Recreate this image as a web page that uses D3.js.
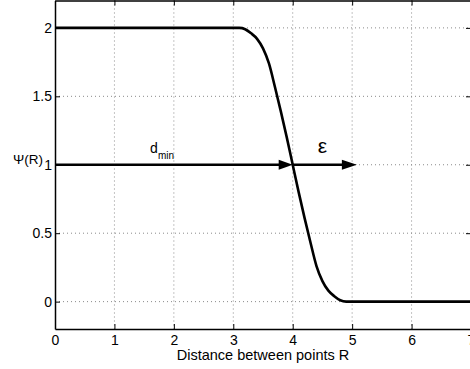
<!DOCTYPE html>
<html>
<head>
<meta charset="utf-8">
<script src="https://cdn.jsdelivr.net/npm/d3@7/dist/d3.min.js"></script>
<style>
  html, body { margin: 0; padding: 0; background: #fff; }
  svg { display: block; }
  text { font-family: "Liberation Sans", Arial, Helvetica, sans-serif; fill: #000; }
</style>
</head>
<body>
<svg id="chart" width="470" height="369"></svg>
<script>
// Ψ(R) against distance R
const distance = [0, 3.1, 3.2, 3.3, 3.4, 3.5, 3.6, 3.7, 3.8, 3.9, 4.0, 4.1, 4.2, 4.3, 4.4, 4.5, 4.6, 4.7, 4.8, 4.9, 7];
const psi      = [2, 2, 1.99, 1.96, 1.92, 1.85, 1.74, 1.57, 1.39, 1.20, 1.0, 0.80, 0.61, 0.43, 0.26, 0.15, 0.08, 0.04, 0.01, 0, 0];

const xTicks = [0, 1, 2, 3, 4, 5, 6, 7];
const yTicks = [0, 0.5, 1, 1.5, 2];
const xTickLabels = ["0", "1", "2", "3", "4", "5", "6", "7"];
const yTickLabels = ["0", "0.5", "1", "1.5", "2"];

// annotation arrows: [from, to] along R at Ψ = 1
const dminArrow = [0, 4];
const epsArrow = [4, 5.08];
const arrowLevel = 1;

const svg = d3.select("#chart");
const mLeft = 55, mRight = 471, mTop = 0.5, mBottom = 329;

const x = d3.scaleLinear().domain([0, 7]).range([mLeft, mRight]);
const y = d3.scaleLinear().domain([-0.2, 2.2]).range([mBottom, mTop]);

// dotted grid
const grid = svg.append("g").attr("stroke", "#8a8a8a").attr("stroke-width", 1)
  .attr("stroke-dasharray", "1,3").attr("fill", "none");
xTicks.slice(1, -1).forEach(t => {
  grid.append("line").attr("x1", x(t)).attr("x2", x(t)).attr("y1", mTop).attr("y2", mBottom);
});
yTicks.forEach(t => {
  grid.append("line").attr("x1", mLeft).attr("x2", mRight).attr("y1", y(t)).attr("y2", y(t));
});

// axes with inward ticks
const xAxisB = d3.axisBottom(x).tickValues(xTicks).tickSize(-5).tickSizeOuter(0).tickPadding(6)
  .tickFormat((d, i) => xTickLabels[i]);
const xAxisT = d3.axisTop(x).tickValues(xTicks).tickSize(-5).tickSizeOuter(0).tickFormat("");
const yAxisL = d3.axisLeft(y).tickValues(yTicks).tickSize(-5).tickSizeOuter(0).tickPadding(3)
  .tickFormat((d, i) => yTickLabels[i]);
const yAxisR = d3.axisRight(y).tickValues(yTicks).tickSize(-5).tickSizeOuter(0).tickFormat("");

function styleAxis(g) {
  g.select(".domain").attr("stroke", "#000").attr("stroke-width", 1.5);
  g.selectAll(".tick line").attr("stroke", "#000").attr("stroke-width", 1);
  g.selectAll(".tick text").attr("font-size", 14)
    .attr("font-family", "Liberation Sans, Arial, sans-serif").attr("fill", "#000");
}
svg.append("g").attr("transform", `translate(0,${mBottom})`).call(xAxisB).call(styleAxis);
svg.append("g").attr("transform", `translate(0,${mTop})`).call(xAxisT).call(styleAxis);
svg.append("g").attr("transform", `translate(${mLeft},0)`).call(yAxisL).call(styleAxis);
svg.append("g").attr("transform", `translate(${mRight},0)`).call(yAxisR).call(styleAxis);

// curve
const line = d3.line().x((d, i) => x(distance[i])).y(d => y(d)).curve(d3.curveMonotoneX);
svg.append("path").datum(psi).attr("d", line)
  .attr("fill", "none").attr("stroke", "#000").attr("stroke-width", 2.6).attr("stroke-linejoin", "round");

// arrows
function arrow(range, headLen, headW) {
  const x0 = x(range[0]), x1 = x(range[1]), yy = y(arrowLevel);
  svg.append("line").attr("x1", x0).attr("x2", x1 - headLen + 1).attr("y1", yy).attr("y2", yy)
    .attr("stroke", "#000").attr("stroke-width", 2.6);
  svg.append("path")
    .attr("d", `M${x1},${yy} L${x1 - headLen},${yy - headW / 2} L${x1 - headLen},${yy + headW / 2} Z`)
    .attr("fill", "#000");
}
arrow(dminArrow, 14, 10);
arrow(epsArrow, 15, 10);

// labels
const dm = svg.append("text").attr("x", x(1.6)).attr("y", 153).attr("font-size", 14);
dm.append("tspan").text("d");
dm.append("tspan").attr("font-size", 10).attr("dy", 6).text("min");

svg.append("text").attr("x", x(4.5)).attr("y", 153).attr("text-anchor", "middle")
  .attr("font-size", 21).attr("font-family", "Liberation Serif, Times New Roman, serif").text("ε");

svg.append("text").attr("x", 43).attr("y", 164).attr("text-anchor", "end")
  .attr("font-size", 13.5).text("Ψ(R)");

svg.append("text").attr("x", (mLeft + mRight) / 2).attr("y", 360).attr("text-anchor", "middle")
  .attr("font-size", 14.5).text("Distance between points R");
</script>
</body>
</html>
